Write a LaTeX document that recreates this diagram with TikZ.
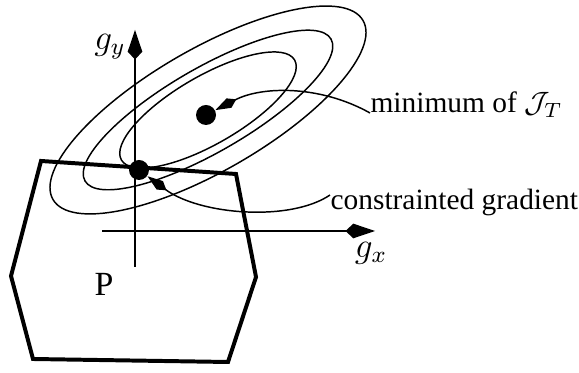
\documentclass[tikz,border=0pt]{standalone}
\usepackage{fontspec}
\setmainfont{Liberation Serif}
\usepackage{amsmath,amssymb}
\usetikzlibrary{arrows.meta,calc}

\begin{document}
\begin{tikzpicture}[x=0.34pt, y=-0.34pt, font=\fontsize{10}{12}\selectfont,
  axisline/.style={line width=0.55pt, -{Kite[length=10pt,width=5pt,inset=2.6pt]}},
  contour/.style={line width=0.5pt},
  pointer/.style={line width=0.5pt, -{Kite[length=8pt,width=3.6pt,inset=2.8pt]}},
  poly/.style={line width=1.35pt},
  dot/.style={circle, fill, inner sep=0pt, minimum size=6.8pt},
  lbl/.style={inner sep=0pt},
  biglbl/.style={inner sep=0pt, font=\fontsize{11.5}{13}\selectfont}]
  \useasboundingbox (0,0) rectangle (579,373);
  % feasible set P
  \draw[poly] (41,161) -- (236,174) -- (256,277) -- (228,362) -- (33,359) -- (11,276) -- cycle;
  % axes
  \coordinate (ybot) at (135,267);
  \coordinate (ytop) at (135,30);
  \coordinate (xleft) at (102,231);
  \coordinate (xright) at (375,231);
  \draw[axisline] (ybot) -- (ytop);
  \draw[axisline] (xleft) -- (xright);
  % level sets of the cost
  \foreach \ra/\rb in {179/61, 142/42, 100/34}
    \draw[contour, rotate around={30:(208,110)}] (208,110) ellipse [x radius=\ra, y radius=\rb];
  % points and labels
  \node[dot] (mindot) at (206,115) {};
  \node[dot] (graddot) at (139,170) {};
  \node[biglbl] (gy) at (110,47) {$g_y$};
  \node[biglbl] (gx) at (371,253) {$g_x$};
  \node[biglbl] (plbl) at (104,284) {P};
  \node[lbl, anchor=base west] (minlbl) at (370,113) {minimum of $\mathcal{J}_T$};
  \node[lbl, anchor=base west] (gradlbl) at (330,210) {constrainted gradient};
  \draw[pointer] (minlbl.base west) .. controls (320,85) and (262,86) .. (mindot);
  \draw[pointer] ([yshift=2.7pt]gradlbl.west) .. controls (290,222) and (200,215) .. (graddot);
\end{tikzpicture}
\end{document}
